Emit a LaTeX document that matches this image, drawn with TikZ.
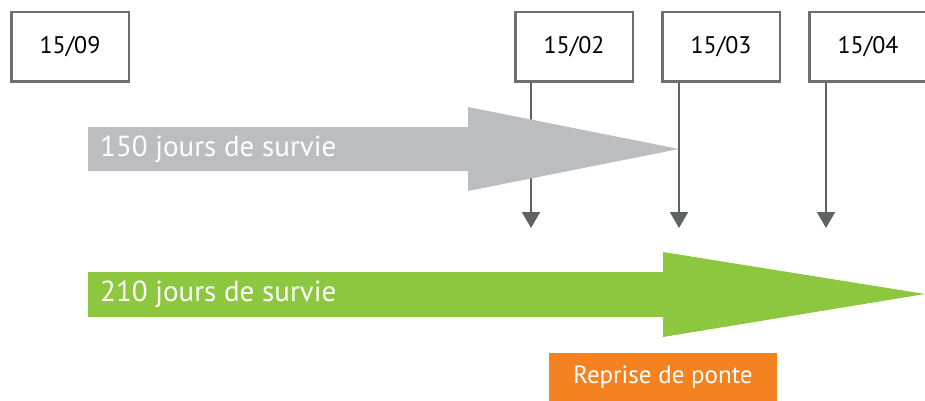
\documentclass[tikz,border=0pt]{standalone}
\usepackage{fontspec}
\setmainfont{PT Sans}
\usetikzlibrary{positioning,arrows.meta}
\definecolor{survieGray}{HTML}{BCBDC0}
\definecolor{survieGreen}{HTML}{8DC63F}
\definecolor{ponteOrange}{HTML}{F58220}
\definecolor{lineGray}{HTML}{606163}
\definecolor{boxGray}{HTML}{6D6E70}

\begin{document}
\begin{tikzpicture}[x=1pt,y=-1pt,node distance=27pt,
    datebox/.style={draw=boxGray,line width=2.5pt,fill=white,minimum width=117.5pt,minimum height=69.5pt,font=\fontsize{24}{28}\selectfont},
    drop/.style={draw=lineGray,line width=2pt,-{Triangle[length=16pt,width=18pt]}},
    survie/.style={text=white,anchor=west,inner sep=0pt,font=\fontsize{29}{34}\selectfont}]
\useasboundingbox (0,0) rectangle (925,401);

% dates
\node[datebox](d09) at (70,47){15/09};
\node[datebox](d02) at (574,47){15/02};
\node[datebox, right=of d02](d03){15/03};
\node[datebox, right=of d03](d04){15/04};

% vertical drops
\coordinate (e02) at (531,228);
\coordinate (e03) at (679,228);
\coordinate (e04) at (826,228);
\draw[drop](d02.south west -| e02)--(e02);
\draw[drop](d03.south west -| e03)--(e03);
\draw[drop](d04.south west -| e04)--(e04);

% survival arrows
\fill[survieGray] (88,127) -- (468,127) -- (468,107) -- (679,149) -- (468,191) -- (468,171) -- (88,171) -- cycle;
\node[survie](s150) at (100,149){150 jours de survie};
\fill[survieGreen] (88,272) -- (663,272) -- (663,252) -- (925,294) -- (663,337) -- (663,317) -- (88,317) -- cycle;
\node[survie](s210) at (100,294){210 jours de survie};

\node[fill=ponteOrange,text=white,minimum width=228pt,minimum height=48pt,font=\fontsize{25}{30}\selectfont](ponte) at (663,377){Reprise de ponte};
\end{tikzpicture}
\end{document}
